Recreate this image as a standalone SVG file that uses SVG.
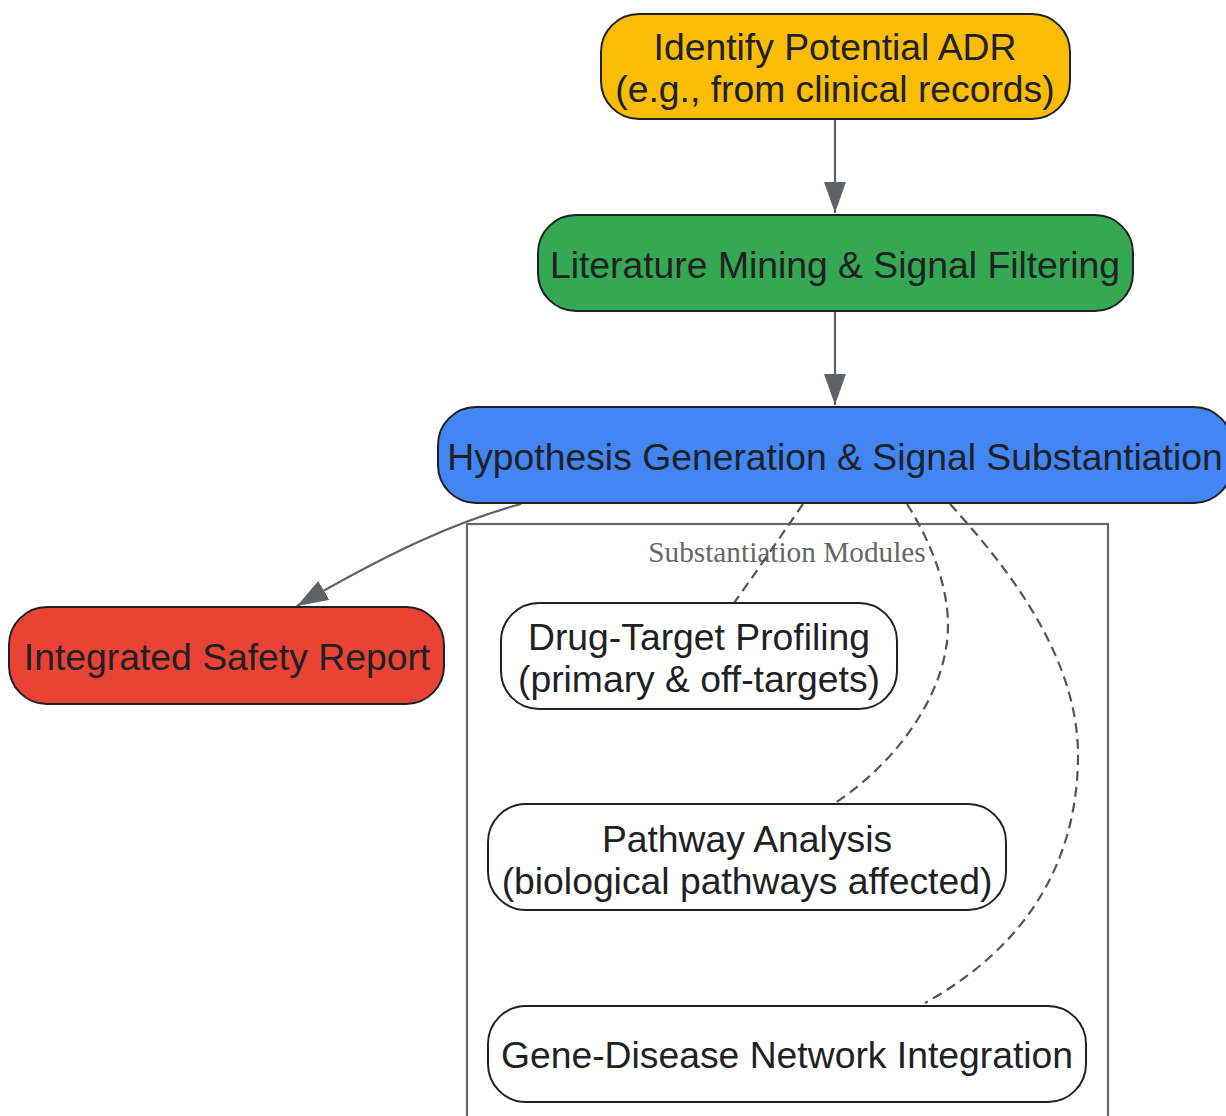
<svg xmlns="http://www.w3.org/2000/svg" width="1226" height="1116" viewBox="0 0 1226 1116">
<style>
.node rect{stroke:#202124;stroke-width:2}
.node text{font-family:"Liberation Sans",Arial,sans-serif;font-size:37.3px;fill:#202124;text-anchor:middle}
.edge{fill:none;stroke:#5f6368;stroke-width:2.2}
.dash{fill:none;stroke:#555555;stroke-width:2.2;stroke-dasharray:10,6}
.cl{fill:none;stroke:#666666;stroke-width:2.2}
.cltext{font-family:"Liberation Serif","Times New Roman",serif;font-size:29.3px;fill:#666666;text-anchor:middle}
</style>
<defs>
<marker id="arr" markerUnits="userSpaceOnUse" markerWidth="32" markerHeight="24" refX="31" refY="11" orient="auto" viewBox="0 0 32 24">
<path d="M0,0 L31,11 L0,22 z" fill="#5f6368"/>
</marker>
</defs>
<rect width="1226" height="1116" fill="#ffffff"/>
<g id="cluster">
<rect class="cl" x="467" y="524" width="641" height="620"/>
<text class="cltext" x="787" y="562">Substantiation Modules</text>
</g>
<g id="connectors">
<path class="edge" d="M835,119 L835,213" marker-end="url(#arr)"/>
<path class="edge" d="M835,311 L835,405" marker-end="url(#arr)"/>
<path class="edge" d="M521,504 C455,522 390,552 297,606" marker-end="url(#arr)"/>
<path class="dash" d="M803,504 C785,530 752,578 734,603"/>
<path class="dash" d="M907,504 C930,540 948,585 948,625 C948,690 900,760 835,803"/>
<path class="dash" d="M950,504 C1010,570 1080,660 1078,760 C1076,870 1020,950 925,1003"/>
</g>
<g id="identify" class="node">
<rect x="601" y="14" width="469" height="105" rx="38" fill="#FBBC05"/>
<text x="835" y="60">Identify Potential ADR</text>
<text x="835" y="102">(e.g., from clinical records)</text>
</g>
<g id="literature" class="node">
<rect x="538" y="215" width="595" height="96" rx="38" fill="#34A853"/>
<text x="835" y="278">Literature Mining &amp; Signal Filtering</text>
</g>
<g id="hypothesis" class="node">
<rect x="438" y="407" width="794" height="96" rx="38" fill="#4285F4"/>
<text x="835" y="470">Hypothesis Generation &amp; Signal Substantiation</text>
</g>
<g id="report" class="node">
<rect x="9" y="607" width="435" height="97" rx="38" fill="#EA4335"/>
<text x="227" y="670">Integrated Safety Report</text>
</g>
<g id="drugtarget" class="node">
<rect x="501" y="603" width="396" height="106" rx="38" fill="#ffffff"/>
<text x="699" y="650">Drug-Target Profiling</text>
<text x="699" y="692">(primary &amp; off-targets)</text>
</g>
<g id="pathway" class="node">
<rect x="488" y="804" width="518" height="106" rx="38" fill="#ffffff"/>
<text x="747" y="852">Pathway Analysis</text>
<text x="747" y="894">(biological pathways affected)</text>
</g>
<g id="genedisease" class="node">
<rect x="488" y="1006" width="598" height="96" rx="38" fill="#ffffff"/>
<text x="787" y="1068">Gene-Disease Network Integration</text>
</g>
</svg>
